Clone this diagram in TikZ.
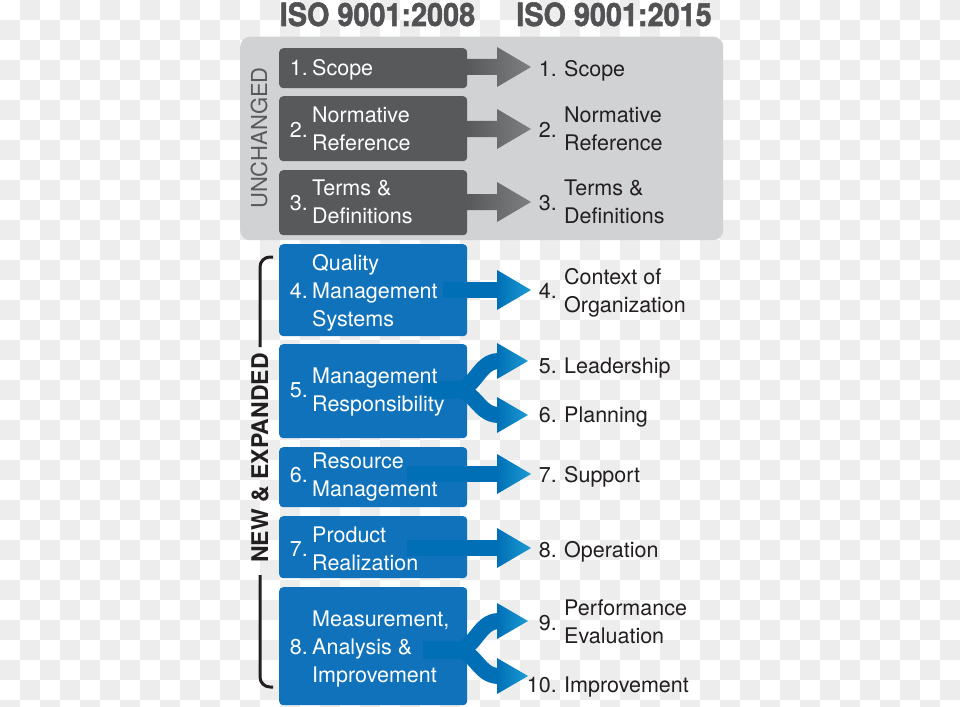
\documentclass[tikz,border=0pt]{standalone}
\usepackage{fontspec}
\setmainfont{TeX Gyre Heros}
\newfontfamily\hdrfont{TeX Gyre Heros}[BoldFeatures={FakeBold=1.6}]
\usetikzlibrary{calc}
\definecolor{chk}{HTML}{EDEDED}
\definecolor{panel}{HTML}{D1D2D4}
\definecolor{dbox}{HTML}{58595B}
\definecolor{dtip}{HTML}{7E7F81}
\definecolor{bbox}{HTML}{1072BA}
\definecolor{bshaft}{HTML}{006FB6}
\definecolor{btip}{HTML}{1B9BD3}
\definecolor{ink}{HTML}{231F20}
\definecolor{hdr}{HTML}{525254}
\begin{document}
\begin{tikzpicture}[x=1pt,y=-1pt,
  darkbox/.style={fill=dbox, rounded corners=4pt, inner sep=0pt, anchor=north west, minimum width=188pt},
  bluebox/.style={fill=bbox, rounded corners=4pt, inner sep=0pt, anchor=north west, minimum width=188pt},
  lt/.style={font=\fontsize{21.5}{28}\selectfont, inner sep=0pt, anchor=base west, white},
  ln/.style={font=\fontsize{21.5}{28}\selectfont, inner sep=0pt, anchor=base east, white},
  rt/.style={font=\fontsize{21.5}{28}\selectfont, inner sep=0pt, anchor=base west, ink},
  rn/.style={font=\fontsize{21.5}{28}\selectfont, inner sep=0pt, anchor=base east, ink},
  hd/.style={font=\hdrfont\fontsize{32}{36}\selectfont\bfseries, inner sep=0pt, anchor=base, hdr},
  bracket/.style={draw=ink, line width=3pt, rounded corners=10pt},
  garrow/.style={left color=dbox, right color=dtip},
  bhead/.style={left color=bshaft, right color=btip},
  barm/.style={draw=bshaft, line width=16pt}
]
\useasboundingbox (0,0) rectangle (960,706);
% checkerboard background
\fill[white] (0,0) rectangle (960,706);
\foreach \j in {0,...,35}{
  \foreach \i in {0,...,23}{
    \pgfmathsetmacro\xx{40*\i+20-20*mod(\j,2)}
    \fill[chk] (\xx,20*\j) rectangle ++(20,20);
  }
}
% headers
\node[hd] (h1) at (377.5,26) {\scalebox{0.9}[1]{ISO 9001:2008}};
\node[hd] (h2) at (614,26) {\scalebox{0.9}[1]{ISO 9001:2015}};
% grey panel
\node[fill=panel, rounded corners=10pt, inner sep=0pt, anchor=north west,
  minimum width=483pt, minimum height=203.5pt] (panel) at (240,36.5) {};
\node[font=\fontsize{22}{26}\selectfont, text=dbox, rotate=90, anchor=base, inner sep=0pt] (unch) at (267,138) {UNCHANGED};
% boxes
\node[darkbox, minimum height=40pt] (b1) at (279,48) {};
\node[darkbox, minimum height=65pt] (b2) at (279,96) {};
\node[darkbox, minimum height=65pt] (b3) at (279,170) {};
\node[bluebox, minimum height=92pt] (b4) at (279,244) {};
\node[bluebox, minimum height=94pt] (b5) at (279,344) {};
\node[bluebox, minimum height=60pt] (b6) at (279,447) {};
\node[bluebox, minimum height=62pt] (b7) at (279,516) {};
\node[bluebox, minimum height=118pt] (b8) at (279,587) {};
% bracket and NEW & EXPANDED
\node[font=\fontsize{23}{26}\selectfont\bfseries, text=ink, rotate=90, anchor=base, inner sep=0pt] (newexp) at (268,458) {NEW \& EXPANDED};
\draw[bracket] (260,347) -- (260,257) -- (273,257);
\draw[bracket] (260,575) -- (260,687) -- (273,687);
% grey arrows
\shade[garrow] (467,59) -- (497,59) -- (497,47) -- (531,67) -- (497,87) -- (497,75) -- (467,75) -- cycle;
\shade[garrow] (467,121) -- (497,121) -- (497,109) -- (531,129) -- (497,149) -- (497,137) -- (467,137) -- cycle;
\shade[garrow] (467,194) -- (497,194) -- (497,182) -- (531,202) -- (497,222) -- (497,210) -- (467,210) -- cycle;
% blue straight arrows
\fill[bshaft] (443,282) rectangle (498,298);
\shade[bhead] (497,270) -- (531,290) -- (497,310) -- cycle;
\fill[bshaft] (407,466) rectangle (498,482);
\shade[bhead] (497,454) -- (531,474) -- (497,494) -- cycle;
\fill[bshaft] (407,540) rectangle (498,556);
\shade[bhead] (497,528) -- (531,548) -- (497,568) -- cycle;
% fork 5
\fill[bshaft] (423,381) rectangle (458,399);
\draw[barm] (455,390) .. controls (476,390) and (478,361) .. (499,361);
\draw[barm] (455,390) .. controls (476,390) and (478,415) .. (499,415);
\shade[bhead] (497,343) -- (528,361) -- (497,379) -- cycle;
\shade[bhead] (497,397) -- (528,415) -- (497,433) -- cycle;
% fork 8
\fill[bshaft] (423,641) rectangle (458,659);
\draw[barm] (455,650) .. controls (476,650) and (478,621) .. (499,621);
\draw[barm] (455,650) .. controls (476,650) and (478,676) .. (499,676);
\shade[bhead] (497,603) -- (528,621) -- (497,639) -- cycle;
\shade[bhead] (497,658) -- (528,676) -- (497,694) -- cycle;
% left texts
\node[ln] (n1) at (308,76) {1.};
\node[lt] (l1) at (312,76) {Scope};
\node[ln] (n2) at (308,137) {2.};
\node[lt] (l2) at (312,123) {\parbox[t]{200pt}{\raggedright Normative\\Reference}};
\node[ln] (n3) at (308,210) {3.};
\node[lt] (l3) at (312,195) {\parbox[t]{200pt}{\raggedright Terms \&\\Definitions}};
\node[ln] (n4) at (308,298) {4.};
\node[lt] (l4) at (312,270) {\parbox[t]{200pt}{\raggedright Quality\\Management\\Systems}};
\node[ln] (n5) at (308,397) {5.};
\node[lt] (l5) at (312,383) {\parbox[t]{200pt}{\raggedright Management\\Responsibility}};
\node[ln] (n6) at (308,482) {6.};
\node[lt] (l6) at (312,468) {\parbox[t]{200pt}{\raggedright Resource\\Management}};
\node[ln] (n7) at (308,556) {7.};
\node[lt] (l7) at (312,542) {\parbox[t]{200pt}{\raggedright Product\\Realization}};
\node[ln] (n8) at (308,654) {8.};
\node[lt] (l8) at (312,626) {\parbox[t]{200pt}{\raggedright Measurement,\\Analysis \&\\Improvement}};
% right texts
\node[rn] (m1) at (557,77) {1.};
\node[rt] (r1) at (564,77) {Scope};
\node[rn] (m2) at (557,137) {2.};
\node[rt] (r2) at (564,123) {\parbox[t]{200pt}{\raggedright Normative\\Reference}};
\node[rn] (m3) at (557,210) {3.};
\node[rt] (r3) at (564,195) {\parbox[t]{200pt}{\raggedright Terms \&\\Definitions}};
\node[rn] (m4) at (557,298) {4.};
\node[rt] (r4) at (564,284) {\parbox[t]{200pt}{\raggedright Context of\\Organization}};
\node[rn] (m5) at (557,373) {5.};
\node[rt] (r5) at (564,373) {Leadership};
\node[rn] (m6) at (557,422) {6.};
\node[rt] (r6) at (564,422) {Planning};
\node[rn] (m7) at (557,482) {7.};
\node[rt] (r7) at (564,482) {Support};
\node[rn] (m8) at (557,557) {8.};
\node[rt] (r8) at (564,557) {Operation};
\node[rn] (m9) at (557,630) {9.};
\node[rt] (r9) at (564,615) {\parbox[t]{200pt}{\raggedright Performance\\Evaluation}};
\node[rn] (m10) at (557,692) {10.};
\node[rt] (r10) at (564,692) {Improvement};
\end{tikzpicture}
\end{document}
